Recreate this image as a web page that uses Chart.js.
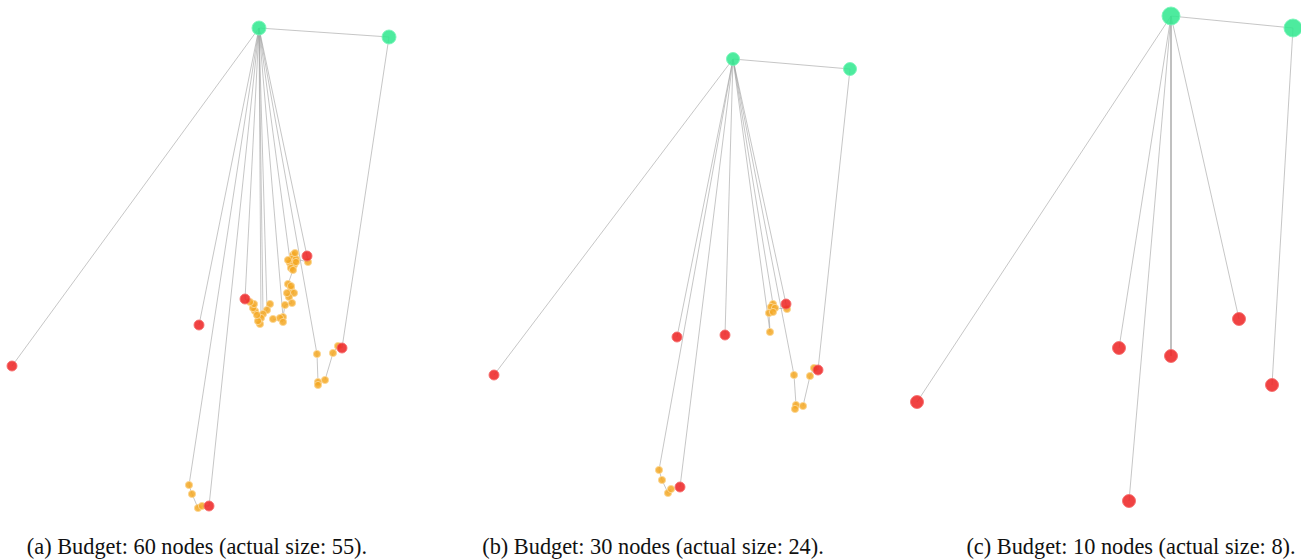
<!DOCTYPE html>
<html>
<head>
<meta charset="utf-8">
<script src="https://cdn.jsdelivr.net/npm/chart.js@4.4.1/dist/chart.umd.min.js"></script>
<style>
  html, body { margin: 0; padding: 0; background: #ffffff; }
  #stage { position: relative; width: 1301px; height: 560px; overflow: hidden; }
  canvas { position: absolute; top: 0; }
  .cap {
    position: absolute; top: 534px; white-space: nowrap;
    font-family: "Liberation Serif", "DejaVu Serif", serif; font-size: 24px; color: #111;
    transform: translateX(-50%) scaleX(0.93); line-height: 24px;
  }
</style>
</head>
<body>
<div id="stage">
  <canvas id="ga" width="434" height="530" style="left:0px"></canvas>
  <canvas id="gb" width="433" height="530" style="left:434px"></canvas>
  <canvas id="gc" width="434" height="530" style="left:867px"></canvas>
  <div class="cap" id="capA" style="left:197px"></div>
  <div class="cap" id="capB" style="left:653px"></div>
  <div class="cap" id="capC" style="left:1131px"></div>
</div>
<script>
// Node kinds: 'hub' = root nodes, 'seed' = selected endpoints, 'member' = intermediate nodes
// ---- Panel (a): budget 60 ----
const aNodeX = [259, 389, 12, 199, 245, 307, 342, 209,
  189, 192, 198, 202, 317, 318, 325, 333, 338,
  293, 292, 296, 290, 294, 291, 293, 308,
  288, 291, 294, 289, 292, 285, 283, 280, 283, 273,
  270, 267, 263, 261, 260, 255, 253, 254, 250, 258,
  318, 291, 296, 295, 288, 257, 287];
const aNodeY = [28, 37, 366, 325, 299, 256, 348, 506,
  485, 494, 508, 506, 354, 382, 380, 353, 346,
  255, 259, 259, 263, 265, 268, 270, 262,
  284, 289, 293, 297, 303, 305, 317, 318, 322, 319,
  304, 310, 314, 318, 324, 311, 308, 304, 302, 321,
  385, 286, 262, 253, 260, 315, 293];
const aNodeKind = ['hub', 'hub', 'seed', 'seed', 'seed', 'seed', 'seed', 'seed'];
const aEdges = [[0, 1], [1, 6], [0, 2], [0, 3], [0, 8], [0, 7], [0, 4], [0, 38], [0, 37], [0, 36],
  [0, 31], [0, 22], [0, 12], [0, 5],
  [8, 9], [9, 10], [10, 11], [11, 7],
  [12, 13], [13, 45], [14, 15], [15, 16], [16, 6],
  [5, 24], [24, 19], [19, 17], [17, 18], [18, 20], [20, 21], [21, 22], [22, 23], [23, 25],
  [25, 26], [26, 27], [27, 28], [28, 29], [29, 30], [30, 31], [31, 32], [32, 33], [33, 34],
  [4, 43], [43, 42], [42, 41], [41, 40], [40, 38], [38, 39], [37, 36], [36, 35]];

// ---- Panel (b): budget 30 ----
const bNodeX = [733, 850, 494, 677, 725, 786, 818, 680,
  773, 771, 775, 769, 773, 787, 770,
  794, 796, 795, 803, 810, 814,
  659, 662, 668, 671];
const bNodeY = [59, 69, 375, 337, 335, 304, 370, 487,
  304, 307, 308, 313, 312, 309, 332,
  375, 405, 409, 406, 376, 368,
  470, 480, 493, 489];
const bNodeKind = ['hub', 'hub', 'seed', 'seed', 'seed', 'seed', 'seed', 'seed'];
const bEdges = [[0, 1], [1, 6], [0, 2], [0, 3], [0, 21], [0, 7], [0, 4], [0, 14], [0, 8], [0, 15], [0, 5],
  [21, 22], [22, 23], [23, 24], [15, 16], [16, 17], [18, 19], [19, 20], [20, 6],
  [5, 13], [13, 10], [10, 8], [8, 9], [9, 11], [11, 12], [11, 14]];

// ---- Panel (c): budget 10 ----
const cNodeX = [1171, 1293, 917, 1119, 1171, 1239, 1272, 1129];
const cNodeY = [16, 28, 402, 348, 356, 319, 385, 501];
const cNodeKind = ['hub', 'hub', 'seed', 'seed', 'seed', 'seed', 'seed', 'seed'];
const cEdges = [[0, 1], [0, 2], [0, 3], [0, 7], [0, 4], [0, 5], [1, 6]];

const captions = [
  '(a) Budget: 60 nodes (actual size: 55).',
  '(b) Budget: 30 nodes (actual size: 24).',
  '(c) Budget: 10 nodes (actual size: 8).'
];

const kindStyle = {
  hub:    { fill: 'rgba(52, 232, 145, 0.88)', border: 'rgba(120, 245, 185, 0.9)' },
  seed:   { fill: 'rgba(238, 40, 40, 0.88)',  border: 'rgba(245, 110, 110, 0.9)' },
  member: { fill: 'rgba(245, 168, 35, 0.85)', border: 'rgba(252, 215, 150, 0.9)' }
};

function buildGraph(canvasId, xs, ys, kinds, edges, xMin, xMax, radii) {
  const datasets = [];
  ['hub', 'seed', 'member'].forEach(function (k) {
    const pts = [];
    xs.forEach(function (x, i) {
      const kind = kinds[i] || 'member';
      if (kind === k) pts.push({ x: x, y: ys[i] });
    });
    datasets.push({
      type: 'scatter', data: pts, order: 0, clip: false,
      pointRadius: radii[k], pointHoverRadius: radii[k],
      backgroundColor: kindStyle[k].fill, borderColor: kindStyle[k].border, borderWidth: 1
    });
  });
  edges.forEach(function (e) {
    datasets.push({
      type: 'scatter', showLine: true, order: 1, clip: false,
      data: [{ x: xs[e[0]], y: ys[e[0]] }, { x: xs[e[1]], y: ys[e[1]] }],
      borderColor: 'rgba(160, 160, 160, 0.75)', borderWidth: 0.8,
      pointRadius: 0, pointHoverRadius: 0, fill: false
    });
  });
  return new Chart(document.getElementById(canvasId), {
    type: 'scatter',
    data: { datasets: datasets },
    options: {
      responsive: false, animation: false, devicePixelRatio: 1,
      layout: { padding: 0, autoPadding: false },
      plugins: { legend: { display: false }, tooltip: { enabled: false } },
      scales: {
        x: { type: 'linear', min: xMin, max: xMax, display: false },
        y: { type: 'linear', min: 0, max: 530, reverse: true, display: false }
      }
    }
  });
}

buildGraph('ga', aNodeX, aNodeY, aNodeKind, aEdges, 0, 434, { hub: 7, seed: 5, member: 3.6 });
buildGraph('gb', bNodeX, bNodeY, bNodeKind, bEdges, 434, 867, { hub: 6.5, seed: 5, member: 3.6 });
buildGraph('gc', cNodeX, cNodeY, cNodeKind, cEdges, 867, 1301, { hub: 9, seed: 6.5, member: 3.6 });

document.getElementById('capA').textContent = captions[0];
document.getElementById('capB').textContent = captions[1];
document.getElementById('capC').textContent = captions[2];
</script>
</body>
</html>
